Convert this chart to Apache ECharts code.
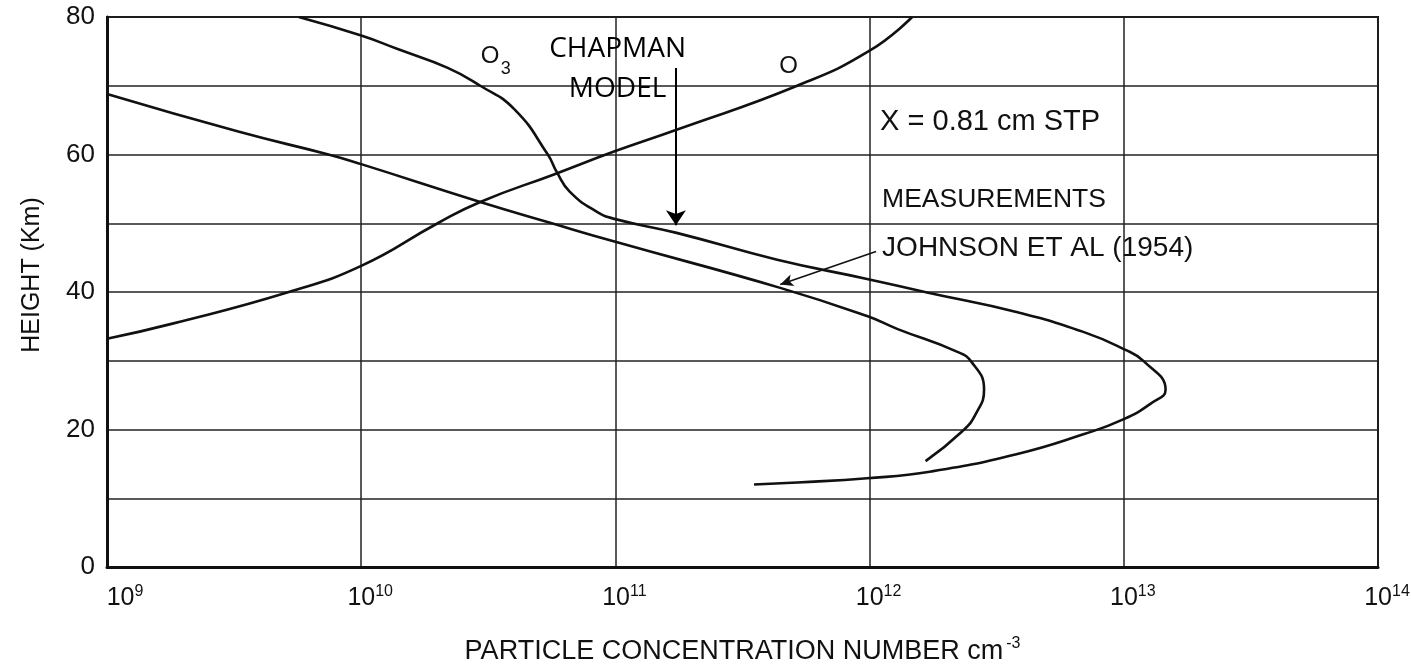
<!DOCTYPE html>
<html><head><meta charset="utf-8">
<script src="https://cdn.jsdelivr.net/npm/echarts/dist/echarts.min.js"></script>
<style>html,body{margin:0;padding:0;background:#fff}#c{width:1411px;height:665px}</style>
</head><body><div id="c"></div>
<script>
// ---- data ----
const xTickExp = ['9', '10', '11', '12', '13', '14'];
const yTickLabels = ['0', '20', '40', '60', '80'];

// Atomic oxygen, O
const oxygenConc = [1.0e9, 1.81e9, 5.19e9, 1.0e10, 2.0e10, 2.94e10, 5.73e10, 1.0e11, 1.74e11, 5.19e11, 1.0e12, 1.47e12];
const oxygenHeight = [33.2, 35.4, 40.0, 43.8, 50.0, 53.1, 57.1, 60.5, 63.6, 70.0, 75.1, 80.0];

// Ozone, Chapman model
const chapmanConc = [5.68e9, 1.0e10, 1.40e10, 2.19e10, 2.94e10, 4.0e10, 5.42e10, 5.89e10, 6.61e10, 8.43e10, 1.0e11, 1.74e11, 4.33e11, 9.77e11, 1.70e12, 3.78e12, 6.93e12, 1.0e13, 1.20e13, 1.46e13, 1.28e13, 1.0e13, 6.93e12, 3.78e12, 1.75e12, 9.77e11, 5.19e11, 3.51e11];
const chapmanHeight = [80.0, 77.3, 75.3, 72.6, 70.0, 66.6, 60.0, 57.4, 54.6, 51.7, 50.6, 48.6, 44.7, 41.9, 39.9, 37.1, 34.2, 31.7, 29.9, 25.8, 23.8, 21.5, 19.3, 16.4, 13.9, 12.9, 12.3, 12.0];

// Ozone, measurements Johnson et al (1954)
const johnsonConc = [1.0e9, 3.31e9, 7.43e9, 1.0e10, 2.94e10, 5.62e10, 1.0e11, 4.45e11, 9.77e11, 1.29e12, 2.18e12, 2.52e12, 2.82e12, 2.62e12, 2.31e12, 1.66e12];
const johnsonHeight = [68.8, 63.3, 60.0, 58.6, 53.1, 50.0, 47.3, 40.6, 36.5, 34.6, 31.4, 29.8, 25.8, 22.3, 19.7, 15.4];

// annotation anchors in data coordinates [concentration, height]
const annO3 = [2.95e10, 74.3];
const annChapman = [1.02e11, 72.5];
const annO = [4.8e11, 72.8];
const annX = [1.10e12, 64.7];
const annMeas = [1.12e12, 53.4];
const annJohnson = [1.12e12, 46.3];
const chapmanArrow = [[1.73e11, 72.6], [1.73e11, 49.7]];
const johnsonArrow = [[1.06e12, 45.9], [4.45e11, 41.1]];

// ---- chart ----
const FONT = '"Liberation Sans", Arial, sans-serif';
const INK = '#111';
const zip = (a, b) => a.map((v, i) => [v, b[i]]);

const chart = echarts.init(document.getElementById('c'), null, {renderer: 'canvas'});

const lineSeries = (name, xs, ys, extra) => Object.assign({
  name, type: 'line', data: zip(xs, ys), showSymbol: false, smooth: 0.5,
  lineStyle: {color: INK, width: 2.6}, silent: true, animation: false, z: 5
}, extra || {});

const option = {
  backgroundColor: '#fff',
  animation: false,
  grid: {left: 107, right: 33, top: 17, bottom: 98, show: true, borderColor: INK, borderWidth: 2,
         containLabel: false, outerBoundsMode: 'none'},
  xAxis: {
    type: 'log', logBase: 10, min: 1e9, max: 1e14,
    name: '{n|PARTICLE CONCENTRATION NUMBER cm}{s|-3}',
    nameLocation: 'middle', nameGap: 69,
    nameTextStyle: {rich: {
      n: {fontFamily: FONT, fontSize: 27, color: INK, lineHeight: 32},
      s: {fontFamily: FONT, fontSize: 16, color: INK, verticalAlign: 'top', lineHeight: 32, padding: [0, 0, 0, 3]}
    }},
    axisLine: {show: true, lineStyle: {color: INK, width: 3}},
    axisTick: {show: false},
    splitLine: {show: true, lineStyle: {color: '#222', width: 1.5}},
    minorSplitLine: {show: false},
    axisLabel: {
      margin: 17,
      formatter: function (v) {
        const e = Math.round(Math.log10(v));
        const lab = xTickExp[e - 9];
        const sp = e === 9 ? 'sp9' : (lab.length > 1 ? 'sp2' : 'sp1');
        return '{' + sp + '|}{b|10}{s|' + lab + '}';
      },
      rich: {
        b: {fontFamily: FONT, fontSize: 25, color: INK, lineHeight: 28},
        s: {fontFamily: FONT, fontSize: 16, color: INK, verticalAlign: 'top', lineHeight: 28},
        sp1: {width: 9}, sp2: {width: 18}, sp9: {width: 36}
      }
    }
  },
  yAxis: {
    type: 'value', min: 0, max: 80, interval: 10,
    name: 'HEIGHT (Km)', nameLocation: 'middle', nameGap: 62, nameRotate: 90,
    nameTextStyle: {fontFamily: FONT, fontSize: 25, color: INK, padding: [0, 0, 0, 34]},
    axisLine: {show: true, lineStyle: {color: INK, width: 3}},
    axisTick: {show: false},
    splitLine: {show: true, lineStyle: {color: '#222', width: 1.5}},
    axisLabel: {
      margin: 12, fontFamily: FONT, fontSize: 26, color: INK,
      formatter: v => (yTickLabels.indexOf(String(v)) >= 0 ? String(v) : '')
    }
  },
  series: [
    lineSeries('O', oxygenConc, oxygenHeight),
    lineSeries('O3 Chapman model', chapmanConc, chapmanHeight, {
      markLine: {
        silent: true, animation: false,
        symbol: ['none', 'arrow'],
        label: {show: false},
        lineStyle: {color: '#000', width: 2, type: 'solid'},
        data: [
          [{coord: chapmanArrow[0], symbolSize: 0}, {coord: chapmanArrow[1], symbolSize: [15, 15]}],
          [{coord: johnsonArrow[0], symbolSize: 0, lineStyle: {width: 1.6, color: INK}}, {coord: johnsonArrow[1], symbolSize: [9, 13]}]
        ]
      }
    }),
    lineSeries('Measurements Johnson et al (1954)', johnsonConc, johnsonHeight)
  ]
};
chart.setOption(option);

const px = p => chart.convertToPixel({gridIndex: 0}, p);
const txt = (p, text, size, align, family) => {
  const q = px(p);
  return {
    type: 'text', x: q[0], y: q[1], z: 20, silent: true,
    style: {text, fontFamily: family || FONT, fontSize: size, fill: INK, align: align || 'left', verticalAlign: 'middle'}
  };
};
const o3p = px(annO3);
const chp = px(annChapman);
chart.setOption({graphic: [
  txt(annO3, 'O', 24, 'left'),
  {type: 'text', x: o3p[0] + 20, y: o3p[1] + 13, z: 20, silent: true,
   style: {text: '3', fontFamily: FONT, fontSize: 18, fill: INK, align: 'left', verticalAlign: 'middle'}},
  {type: 'text', x: chp[0], y: chp[1], z: 20, silent: true,
   style: {text: 'CHAPMAN\nMODEL', fontFamily: '"Open Sans", sans-serif', fontSize: 28, lineHeight: 40,
           fill: '#000', align: 'center', verticalAlign: 'middle'}},
  txt(annO, 'O', 24, 'center'),
  txt(annX, 'X = 0.81 cm STP', 29, 'left'),
  txt(annMeas, 'MEASUREMENTS', 26.5, 'left'),
  txt(annJohnson, 'JOHNSON ET AL (1954)', 28, 'left')
]});
</script></body></html>
